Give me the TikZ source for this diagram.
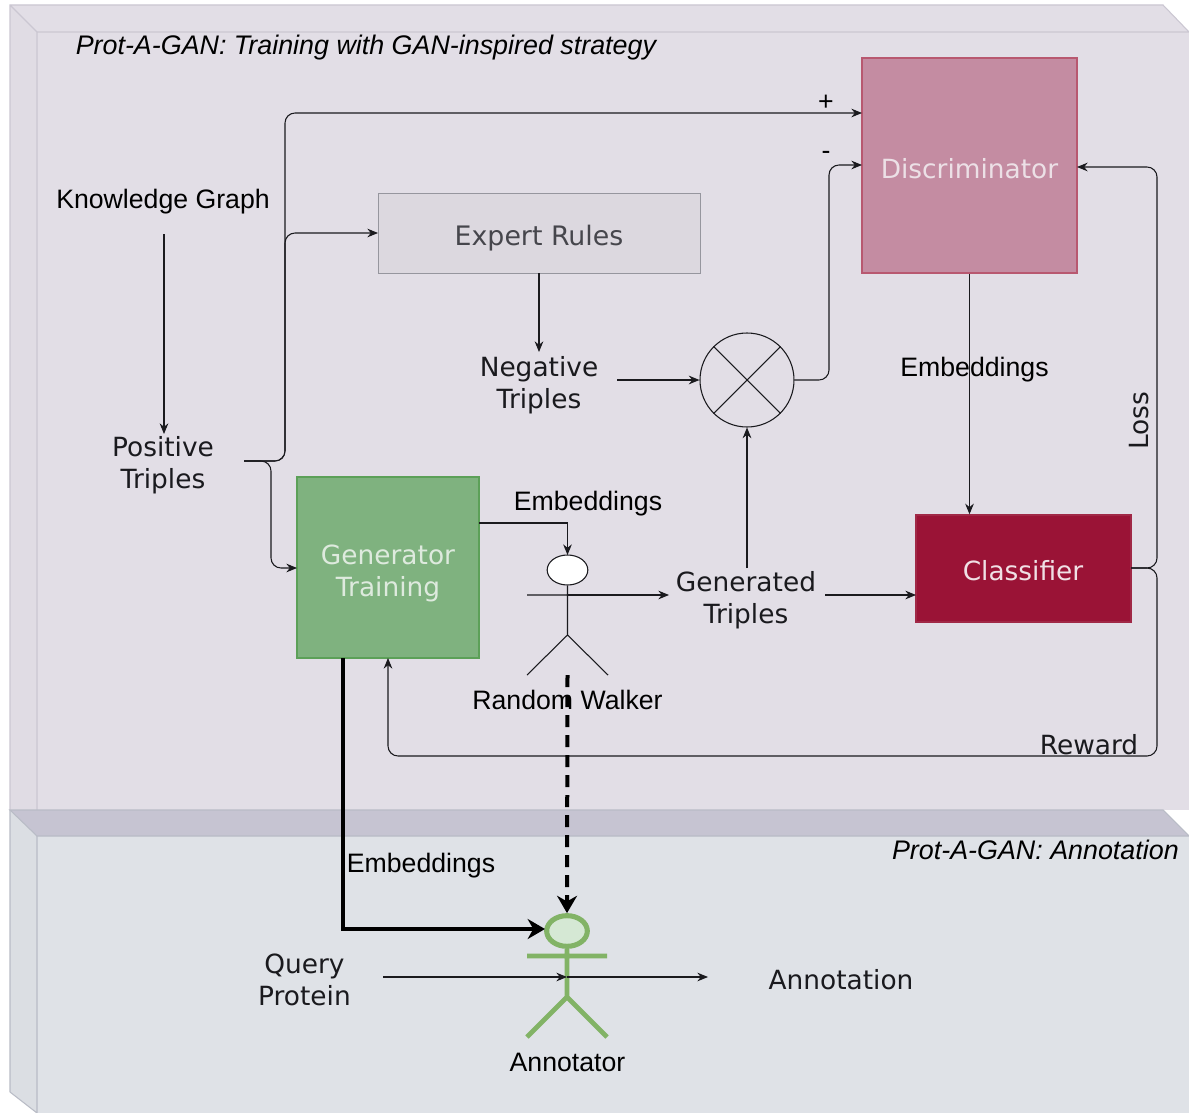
\documentclass[tikz,border=0pt]{standalone}
\usepackage{fontspec}
\setmainfont{Liberation Sans}
\newfontfamily\dv{DejaVu Sans}
\usetikzlibrary{arrows.meta,shapes.geometric}
\definecolor{upf}{HTML}{E2DEE6}
\definecolor{ups}{HTML}{E0DCE4}
\definecolor{upl}{HTML}{CBC7D2}
\definecolor{lof}{HTML}{DFE2E7}
\definecolor{los}{HTML}{DBDEE3}
\definecolor{lol}{HTML}{B9BCC6}
\definecolor{band}{HTML}{C6C4D2}
\definecolor{ink}{HTML}{1A1A1E}
\definecolor{actg}{HTML}{82B366}
\definecolor{actf}{HTML}{D5E8D4}
\definecolor{discd}{HTML}{B85870}
\definecolor{discf}{HTML}{C48CA2}
\definecolor{disct}{HTML}{ECE0E6}
\definecolor{ruled}{HTML}{96969E}
\definecolor{rulef}{HTML}{DCD8DF}
\definecolor{rulet}{HTML}{46464C}
\definecolor{gend}{HTML}{5CA058}
\definecolor{genf}{HTML}{7FB27F}
\definecolor{gent}{HTML}{DEEADE}
\definecolor{clsd}{HTML}{A02846}
\definecolor{clsf}{HTML}{9A1336}
\definecolor{clst}{HTML}{F0E0E5}
\tikzset{
 x=0.75pt,y=-0.75pt,
 conn/.style={draw=ink,line width=0.8pt,rounded corners=7.5pt,-{Stealth[length=8pt,width=6.5pt]}},
 boxn/.style={draw,line width=1.3pt,inner sep=0pt},
 lab/.style={inner sep=0pt,align=center,text=black,font=\fontsize{20}{24}\selectfont},
 dlab/.style={inner sep=0pt,align=center,text=ink,font=\dv\fontsize{19.8}{23.7}\selectfont},
 capt/.style={inner sep=0pt,text=black,font=\itshape\fontsize{20.15}{24}\selectfont},
 actw/.style={draw=ink,line width=0.8pt},
 actb/.style={draw=actg,line width=3.5pt},
 thickarrow/.style={line width=3pt,black,-{Stealth[length=13pt,width=15pt]}},
}
\begin{document}
\begin{tikzpicture}
\useasboundingbox (0,0) rectangle (1189,1113);
\clip (0,0) rectangle (1189,1113);
\fill[white] (0,0) rectangle (1189,1113);
% upper layer
\fill[upf] (37,32) rectangle (1200,810);
\fill[upf] (10,5) -- (1163,5) -- (1189,32) -- (37,32) -- cycle;
\fill[ups] (10,5) -- (37,32) -- (37,810) -- (10,810) -- cycle;
\draw[upl,line width=0.8pt] (10,810) -- (10,5) -- (1163,5) -- (1189,32) -- (37,32) -- (10,5) (37,32) -- (37,810);
% lower layer
\fill[lof] (37,836) rectangle (1200,1113);
\fill[los] (10,810) -- (37,836) -- (37,1113) -- (10,1092) -- cycle;
\fill[band] (10,810) -- (1163,810) -- (1189,836) -- (37,836) -- cycle;
\draw[lol,line width=0.8pt] (10,1092) -- (10,810) (37,836) -- (37,1113) (10,1092) -- (37,1113);
\draw[lol,line width=0.8pt] (10,810) -- (1163,810) -- (1189,836) -- (37,836) -- cycle;
% captions
\node[capt,anchor=west] (captop) at (75.5,48) {Prot-A-GAN: Training with GAN-inspired strategy};
\node[capt,anchor=east] (capbot) at (1179,850) {Prot-A-GAN: Annotation};
% boxes
\node[boxn,draw=discd,fill=discf,minimum width=161pt,minimum height=161pt] (disc) at (969.5,165.5) {};
\node[dlab,text=disct] (disctxt) at (969.5,168.5) {Discriminator};
\node[boxn,draw=ruled,fill=rulef,line width=0.6pt,minimum width=241.5pt,minimum height=60pt] (rules) at (539,233) {};
\node[dlab,text=rulet,font=\dv\fontsize{20.1}{24}\selectfont] (rulestxt) at (539,238) {Expert Rules};
\node[boxn,draw=gend,fill=genf,minimum width=136pt,minimum height=136pt] (gen) at (388,567.5) {};
\node[dlab,text=gent] (gentxt) at (388,573.5) {Generator\\Training};
\node[boxn,draw=clsd,fill=clsf,minimum width=161pt,minimum height=80pt] (cls) at (1023.5,568.5) {};
\node[dlab,text=clst] (clstxt) at (1023,570.5) {Classifier};
\node[circle,draw=ink,line width=0.8pt,inner sep=0pt,minimum size=70.5pt] (xor) at (747,380) {};
% labels
\node[lab] (kg) at (163,202) {Knowledge Graph};
\node[dlab] (pos) at (163,465.5) {Positive\\Triples};
\node[dlab] (neg) at (539,385) {Negative\\Triples};
\node[dlab] (gentr) at (746,600) {Generated\\Triples};
\node[lab] (emb1) at (974.5,370) {Embeddings};
\node[lab] (emb2) at (588,504) {Embeddings};
\node[lab] (emb3) at (421,866) {Embeddings};
\node[lab] (rw) at (567.5,700) {Random Walker};
\node[lab] (ann) at (567.5,1062) {Annotator};
\node[dlab,rotate=90] (loss) at (1139,421) {Loss};
\node[dlab] (reward) at (1089,745) {Reward};
\node[dlab] (qp) at (304.5,980) {Query\\Protein};
\node[dlab] (annot) at (841,980) {Annotation};
\node[lab] (plus) at (826,103) {+};
\node[lab] (minus) at (826,155) {-};
% random walker
\node[ellipse,draw=ink,fill=white,line width=0.8pt,inner sep=0pt,minimum width=30.5pt,minimum height=22.5pt] (rwh) at (567.5,570) {};
\coordinate (rwl) at (527,595);
\coordinate (rwr) at (608,595);
\coordinate (rwm) at (567.5,595);
\coordinate (rwb) at (567.5,635);
\coordinate (rwfl) at (527,675);
\coordinate (rwfr) at (608,675);
\draw[actw] (rwh) -- (rwb) -- (rwfl) (rwb) -- (rwfr) (rwl) -- (rwr);
% annotator
\node[ellipse,draw=actg,fill=actf,line width=3.8pt,inner sep=0pt,minimum width=30.5pt,minimum height=23pt] (anh) at (567,931) {};
\coordinate (anl) at (527,956);
\coordinate (anr) at (607,956);
\coordinate (anm) at (567,977);
\coordinate (anb) at (567,997);
\coordinate (anfl) at (527,1037);
\coordinate (anfr) at (607,1037);
\draw[actb] (anh) -- (anb) -- (anfl) (anb) -- (anfr) (anl) -- (anr);
% way points
\coordinate (posout) at (244,461);
\coordinate (posbus) at (285,461);
\coordinate (gensplit) at (271,461);
\coordinate (discp) at (862,113);
\coordinate (discm) at (862,165);
\coordinate (rulesin) at (378,233);
\coordinate (genin) at (297,568);
\coordinate (kgout) at (164,234);
\coordinate (posin) at (164,434);
\coordinate (negin) at (539,352);
\coordinate (negout) at (617,380);
\coordinate (genemb) at (479,523);
\coordinate (rwin) at (567.5,555);
\coordinate (rwout) at (669,595);
\coordinate (gentout) at (825,595);
\coordinate (clsin) at (916,595);
\coordinate (gentup) at (747,568);
\coordinate (clsout) at (1131,568);
\coordinate (lossr) at (1157,568);
\coordinate (discr) at (1077,167);
\coordinate (rewb) at (1157,756);
\coordinate (genb) at (388,658);
\coordinate (genth) at (343,658);
\coordinate (anin) at (545,929);
\coordinate (qpout) at (383,977);
\coordinate (anout) at (708,977);
\coordinate (xorm) at (829,380);
\coordinate (rwd) at (567.5,675);
% connectors
\draw[conn] (kgout) -- (posin);
\draw[conn] (posout) -- (posbus) -- (posbus |- discp) -- (discp);
\draw[conn] (posout) -- (posbus) -- (posbus |- rulesin) -- (rulesin);
\draw[conn] (posout) -- (gensplit) -- (gensplit |- genin) -- (genin);
\draw[conn] (rules.south) -- (negin);
\draw[conn] (negout) -- (xor.west);
\draw[conn] (xor.east) -- (xorm) -- (xorm |- discm) -- (discm);
\draw[conn] (gentup) -- (xor.south);
\draw[conn] (gentout) -- (clsin);
\draw[conn] (disc.south) -- (disc.south |- cls.north);
\draw[conn] (clsout) -- (lossr) -- (lossr |- discr) -- (discr);
\draw[conn] (clsout) -- (lossr) -- (rewb) -- (rewb -| genb) -- (genb);
\draw[conn,rounded corners=0pt] (genemb) -- (genemb -| rwin) -- (rwin);
\draw[conn] (rwm) -- (rwout);
\draw[thickarrow] (genth) -- (genth |- anin) -- (anin);
\draw[thickarrow,dash pattern=on 9pt off 6pt] (rwd) -- (anh.north);
\draw[conn] (qpout) -- (anm);
\draw[conn] (anm) -- (anout);
\draw[actw] (xor.45) -- (xor.225) (xor.135) -- (xor.315);
\end{tikzpicture}
\end{document}
